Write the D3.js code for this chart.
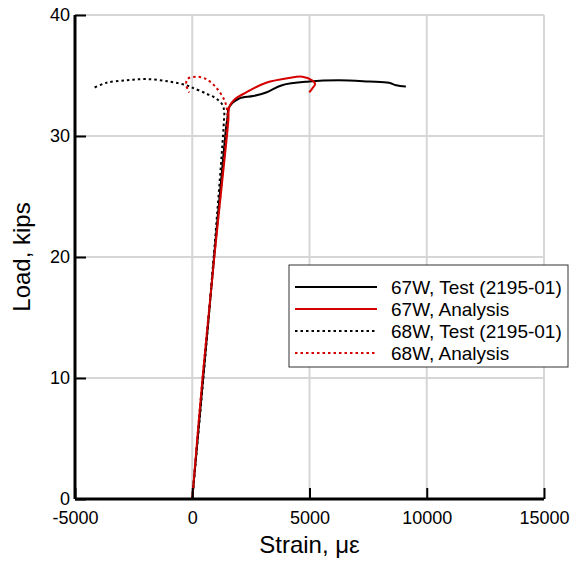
<!DOCTYPE html>
<html>
<head>
<meta charset="utf-8">
<script src="https://cdn.jsdelivr.net/npm/d3@7"></script>
<style>
  body { margin: 0; background: #fff; }
  text { font-family: "Liberation Sans", Arial, sans-serif; }
</style>
</head>
<body>
<div id="chart"></div>
<script>
// strain (micro-strain) and load (kips)
const test67Strain = [0, 700, 1430, 1500, 1576, 2000, 2600, 3150, 3830, 4980, 6260, 7540, 8390, 8690, 9110];
const test67Load   = [0, 15, 30.5, 31.5, 32.4, 33.1, 33.3, 33.6, 34.2, 34.5, 34.6, 34.5, 34.4, 34.2, 34.1];

const ana67Strain = [0, 440, 940, 1480, 1540, 1580, 1790, 2300, 3150, 4130, 4690, 5110, 5240, 5110, 4990];
const ana67Load   = [0, 10, 20, 30, 31.3, 32.4, 33.0, 33.6, 34.4, 34.8, 34.9, 34.6, 34.3, 33.9, 33.6];

const test68Strain = [0, 700, 1350, 1360, 1280, 1020, 600, 0, -255, -980, -1960, -2810, -3660, -4170];
const test68Load   = [0, 15, 31.2, 32.1, 32.6, 33.1, 33.5, 34.0, 34.2, 34.5, 34.7, 34.6, 34.4, 34.0];

const ana68Strain = [0, 440, 940, 1460, 1490, 1360, 1020, 600, 170, -210, -255, -130];
const ana68Load   = [0, 10, 20, 30.5, 32.1, 33.0, 34.0, 34.7, 34.9, 34.7, 34.2, 33.6];

const xTicks = [-5000, 0, 5000, 10000, 15000];
const yTicks = [0, 10, 20, 30, 40];

const series = [
  { name: "67W, Test (2195-01)", x: test67Strain, y: test67Load, color: "#000", dash: null },
  { name: "67W, Analysis", x: ana67Strain, y: ana67Load, color: "#d40000", dash: null },
  { name: "68W, Test (2195-01)", x: test68Strain, y: test68Load, color: "#000", dash: "2.5,3" },
  { name: "68W, Analysis", x: ana68Strain, y: ana68Load, color: "#d40000", dash: "2.5,3" }
];

const svgWidth = 577, svgHeight = 565;
const margin = { top: 15, right: 33, bottom: 66, left: 75 };
const width = svgWidth - margin.left - margin.right;
const height = svgHeight - margin.top - margin.bottom;

const xScale = d3.scaleLinear([-5000, 15000], [0, width]);
const yScale = d3.scaleLinear([0, 40], [height, 0]);

const svg = d3.select("#chart").append("svg")
  .attr("width", svgWidth)
  .attr("height", svgHeight);

const g = svg.append("g").attr("transform", `translate(${margin.left},${margin.top})`);

// grid
g.selectAll(".gx").data(xTicks.slice(1)).enter().append("line")
  .attr("x1", d => xScale(d)).attr("x2", d => xScale(d))
  .attr("y1", 0).attr("y2", height)
  .attr("stroke", "#d6d6d6").attr("stroke-width", 2);
g.selectAll(".gy").data(yTicks.slice(1)).enter().append("line")
  .attr("x1", 0).attr("x2", width)
  .attr("y1", d => yScale(d)).attr("y2", d => yScale(d))
  .attr("stroke", "#d6d6d6").attr("stroke-width", 2);

// lines
const line = d3.line().x(d => xScale(d[0])).y(d => yScale(d[1])).curve(d3.curveCatmullRom);
series.forEach(s => {
  g.append("path")
    .datum(d3.zip(s.x, s.y))
    .attr("d", line)
    .attr("fill", "none")
    .attr("stroke", s.color)
    .attr("stroke-width", 2)
    .attr("stroke-dasharray", s.dash);
});

// axes (ticks pointing inward)
const xMinor = d3.range(-5000, 15001, 1000);
const yMinor = d3.range(0, 41, 2);

const xAxis = g.append("g").attr("transform", `translate(0,${height})`);
xAxis.call(d3.axisBottom(xScale).tickValues(xMinor).tickSize(-5).tickFormat(""));
xAxis.call(d3.axisBottom(xScale).tickValues(xTicks).tickSize(-11).tickPadding(14).tickFormat(d => String(d)));
xAxis.select(".domain").remove();
xAxis.selectAll("line").attr("stroke", "#000").attr("stroke-width", 2);
xAxis.selectAll("text").style("font-size", "18px").attr("fill", "#000").attr("dy", "0.6em");

const yAxis = g.append("g");
yAxis.call(d3.axisLeft(yScale).tickValues(yMinor).tickSize(-5).tickFormat(""));
yAxis.call(d3.axisLeft(yScale).tickValues(yTicks).tickSize(-11).tickPadding(5));
yAxis.select(".domain").remove();
yAxis.selectAll("line").attr("stroke", "#000").attr("stroke-width", 2);
yAxis.selectAll("text").style("font-size", "18px").attr("fill", "#000");

g.append("line").attr("x1", 0).attr("x2", width).attr("y1", height).attr("y2", height)
  .attr("stroke", "#000").attr("stroke-width", 3);
g.append("line").attr("x1", 0).attr("x2", 0).attr("y1", 0).attr("y2", height)
  .attr("stroke", "#000").attr("stroke-width", 3);

// axis titles
svg.append("text")
  .attr("x", margin.left + xScale(5000))
  .attr("y", 553)
  .attr("text-anchor", "middle")
  .style("font-size", "24px")
  .text("Strain, με");

svg.append("text")
  .attr("transform", `translate(30,${margin.top + height / 2}) rotate(-90)`)
  .attr("text-anchor", "middle")
  .style("font-size", "24px")
  .text("Load, kips");

// legend
const legend = svg.append("g").attr("transform", "translate(289,265)");
legend.append("rect").attr("width", 279).attr("height", 102)
  .attr("fill", "#fff").attr("stroke", "#333").attr("stroke-width", 1);
series.forEach((s, i) => {
  const yy = 22 + i * 22;
  legend.append("line").attr("x1", 6).attr("x2", 88).attr("y1", yy).attr("y2", yy)
    .attr("stroke", s.color).attr("stroke-width", 2).attr("stroke-dasharray", s.dash);
  legend.append("text").attr("x", 102).attr("y", yy + 7)
    .style("font-size", "19px").text(s.name);
});
</script>
</body>
</html>
